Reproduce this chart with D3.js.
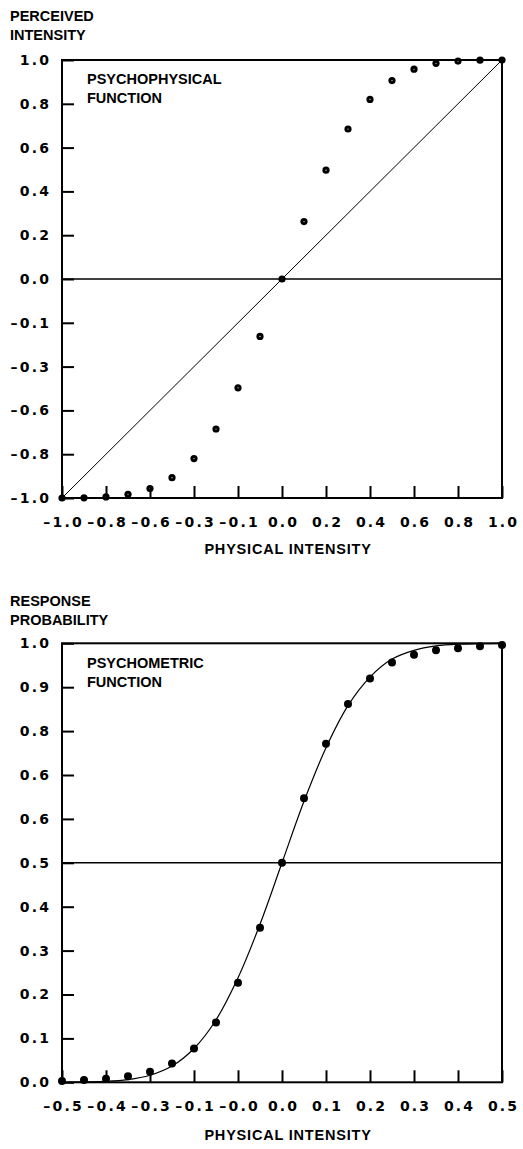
<!DOCTYPE html>
<html>
<head>
<meta charset="utf-8">
<script src="https://cdn.jsdelivr.net/npm/d3@7"></script>
<style>
  html, body { margin: 0; padding: 0; background: #fff; }
  svg { display: block; }
</style>
</head>
<body>
<svg id="fig" width="523" height="1149"></svg>
<script>
// ---- Psychophysical function: perceived vs physical intensity ----
const physTop = [-1.0, -0.9, -0.8, -0.7, -0.6, -0.5, -0.4, -0.3, -0.2, -0.1, 0.0,
                 0.1, 0.2, 0.3, 0.4, 0.5, 0.6, 0.7, 0.8, 0.9, 1.0];
const perceived = [-1.0, -0.999, -0.995, -0.983, -0.957, -0.907, -0.82, -0.685, -0.497, -0.262, 0.0,
                   0.262, 0.497, 0.685, 0.82, 0.906, 0.958, 0.985, 0.995, 0.999, 1.0];
const identityLine = [-1.0, 1.0];
const topTicks = [-1.0, -0.8, -0.6, -0.4, -0.2, 0.0, 0.2, 0.4, 0.6, 0.8, 1.0];
const topXLabels = ["\u20131.0", "\u20130.8", "\u20130.6", "\u20130.3", "\u20130.1", "0.0", "0.2", "0.4", "0.6", "0.8", "1.0"];
const topYLabels = ["\u20131.0", "\u20130.8", "\u20130.6", "\u20130.3", "\u20130.1", "0.0", "0.2", "0.4", "0.6", "0.8", "1.0"];

// ---- Psychometric function: response probability vs physical intensity ----
const physBottom = [-0.5, -0.45, -0.4, -0.35, -0.3, -0.25, -0.2, -0.15, -0.1, -0.05, 0.0,
                    0.05, 0.1, 0.15, 0.2, 0.25, 0.3, 0.35, 0.4, 0.45, 0.5];
const responseProb = [0.003, 0.005, 0.008, 0.014, 0.024, 0.043, 0.077, 0.136, 0.227, 0.352, 0.5,
                      0.647, 0.771, 0.862, 0.920, 0.956, 0.974, 0.984, 0.989, 0.993, 0.996];
const fittedProb = [0.000, 0.001, 0.002, 0.006, 0.016, 0.037, 0.077, 0.142, 0.238, 0.360, 0.5,
                    0.640, 0.762, 0.858, 0.923, 0.964, 0.984, 0.994, 0.998, 0.999, 1.0];
const bottomXTicks = [-0.5, -0.4, -0.3, -0.2, -0.1, 0.0, 0.1, 0.2, 0.3, 0.4, 0.5];
const bottomYTicks = [0.0, 0.1, 0.2, 0.3, 0.4, 0.5, 0.6, 0.7, 0.8, 0.9, 1.0];
const bottomXLabels = ["\u20130.5", "\u20130.4", "\u20130.3", "\u20130.1", "\u20130.0", "0.0", "0.1", "0.2", "0.3", "0.4", "0.5"];
const bottomYLabels = ["0.0", "0.1", "0.2", "0.3", "0.4", "0.5", "0.6", "0.6", "0.8", "0.9", "1.0"];

const svg = d3.select("#fig");
const LEFT = 62, RIGHT = 502;
const TICK_FONT = "'DejaVu Sans', sans-serif";
const TITLE_FONT = "'Liberation Sans', Arial, sans-serif";
const SPACING = 2.2;

function drawPanel(p) {
  const g = svg.append("g");
  const x = d3.scaleLinear().domain(p.xDomain).range([LEFT, RIGHT]);
  const y = d3.scaleLinear().domain(p.yDomain).range([p.bottom, p.top]);

  // reference line (identity or fitted curve)
  g.append("path")
    .datum(p.lineX.map((v, i) => [v, p.lineY[i]]))
    .attr("fill", "none")
    .attr("stroke", "#000")
    .attr("stroke-width", p.lineWidth)
    .attr("d", d3.line().x(d => x(d[0])).y(d => y(d[1])).curve(p.curve));

  // data points
  const dots = g.append("g");
  dots.selectAll("circle.pt")
    .data(p.pointsX.map((v, i) => [v, p.pointsY[i]]))
    .join("circle")
    .attr("class", "pt")
    .attr("cx", d => x(d[0]))
    .attr("cy", d => y(d[1]))
    .attr("r", p.r)
    .attr("fill", "#000");
  if (p.hollowCore) {
    dots.selectAll("circle.core")
      .data(p.pointsX.map((v, i) => [v, p.pointsY[i]]))
      .join("circle")
      .attr("class", "core")
      .attr("cx", d => x(d[0]))
      .attr("cy", d => y(d[1]))
      .attr("r", 0.55)
      .attr("fill", "#fff");
  }

  // horizontal mid line
  g.append("line")
    .attr("x1", LEFT).attr("x2", RIGHT)
    .attr("y1", y(p.midY)).attr("y2", y(p.midY))
    .attr("stroke", "#000").attr("stroke-width", 1.6);

  // y axis: inward ticks on the left edge
  const yAxis = d3.axisLeft(y)
    .tickValues(p.yTicks)
    .tickFormat((d, i) => p.yLabels[i])
    .tickSize(-12)
    .tickPadding(13 - SPACING);
  const ya = g.append("g").attr("transform", `translate(${LEFT},0)`).call(yAxis);
  ya.select(".domain").remove();
  ya.selectAll(".tick line").attr("stroke", "#000").attr("stroke-width", 2);
  ya.selectAll(".tick text")
    .attr("font-family", TICK_FONT).attr("font-size", 14).attr("font-weight", "bold")
    .attr("fill", "#000").style("letter-spacing", SPACING + "px");
  ya.attr("font-family", null).attr("font-size", null);

  // x axis: inward ticks on the bottom edge
  const xAxis = d3.axisBottom(x)
    .tickValues(p.xTicks)
    .tickFormat((d, i) => p.xLabels[i])
    .tickSize(-12)
    .tickPadding(19);
  const xa = g.append("g").attr("transform", `translate(0,${p.bottom})`).call(xAxis);
  xa.select(".domain").remove();
  xa.selectAll(".tick line").attr("stroke", "#000").attr("stroke-width", 2);
  xa.selectAll(".tick text")
    .attr("font-family", TICK_FONT).attr("font-size", 14).attr("font-weight", "bold")
    .attr("fill", "#000").attr("dx", SPACING / 2).style("letter-spacing", SPACING + "px");
  xa.attr("font-family", null).attr("font-size", null);

  // frame
  g.append("rect")
    .attr("x", LEFT).attr("y", p.top)
    .attr("width", RIGHT - LEFT).attr("height", p.bottom - p.top)
    .attr("fill", "none").attr("stroke", "#000").attr("stroke-width", 2);

  const txt = (s, tx, ty, anchor, ls) => g.append("text")
    .attr("x", tx).attr("y", ty)
    .attr("text-anchor", anchor || "start")
    .attr("font-family", TITLE_FONT).attr("font-size", 14.5).attr("font-weight", "bold")
    .style("letter-spacing", (ls || 0) + "px")
    .attr("fill", "#000").text(s);

  // y-axis title (two lines, above the plot)
  txt(p.yTitle[0], 10, p.titleBase[0]);
  txt(p.yTitle[1], 10, p.titleBase[1]);
  // in-plot caption
  txt(p.caption[0], 87, p.captionBase[0]);
  txt(p.caption[1], 87, p.captionBase[1]);
  // x-axis title
  txt("PHYSICAL INTENSITY", 288, p.xTitleBase, "middle", 0.8);
}

drawPanel({
  xDomain: [-1, 1], yDomain: [-1, 1], top: 60, bottom: 498,
  lineX: identityLine, lineY: identityLine, lineWidth: 1, curve: d3.curveLinear,
  pointsX: physTop, pointsY: perceived, r: 3.6, hollowCore: true,
  midY: 0,
  xTicks: topTicks, xLabels: topXLabels, yTicks: topTicks, yLabels: topYLabels,
  yTitle: ["PERCEIVED", "INTENSITY"], titleBase: [21, 39.5],
  caption: ["PSYCHOPHYSICAL", "FUNCTION"], captionBase: [84, 102.5],
  xTitleBase: 554
});

drawPanel({
  xDomain: [-0.5, 0.5], yDomain: [0, 1], top: 643.3, bottom: 1082.3,
  lineX: physBottom, lineY: fittedProb, lineWidth: 1.2, curve: d3.curveCatmullRom,
  pointsX: physBottom, pointsY: responseProb, r: 4, hollowCore: false,
  midY: 0.5,
  xTicks: bottomXTicks, xLabels: bottomXLabels, yTicks: bottomYTicks, yLabels: bottomYLabels,
  yTitle: ["RESPONSE", "PROBABILITY"], titleBase: [605.7, 625],
  caption: ["PSYCHOMETRIC", "FUNCTION"], captionBase: [667.7, 686.7],
  xTitleBase: 1140
});
</script>
</body>
</html>
